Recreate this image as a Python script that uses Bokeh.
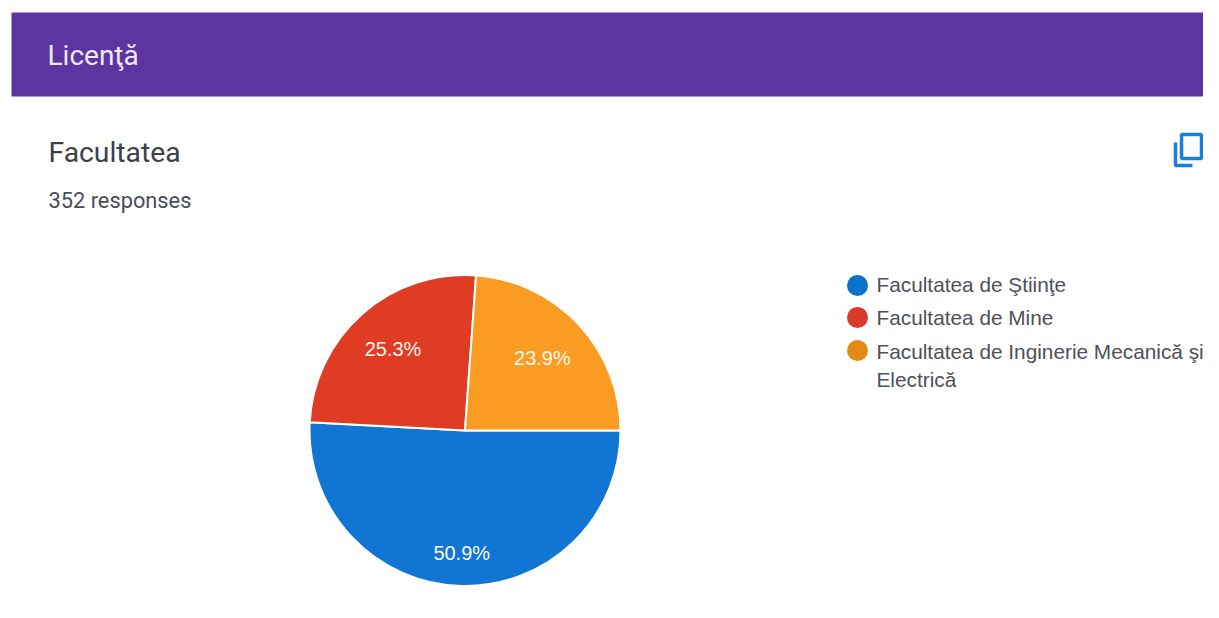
from math import pi, cos, sin
from bokeh.embed import file_html
from bokeh.resources import INLINE
from bokeh.models import Range1d, ColumnDataSource
from bokeh.plotting import figure
from bokeh.core.properties import value

section_title = "Licenţă"
question = "Facultatea"
responses = "352 responses"
categories = ["Facultatea de Ştiinţe", "Facultatea de Mine", "Facultatea de Inginerie Mecanică şi\nElectrică"]
counts = [179, 89, 84]
slice_colors = ["#1176d3", "#e03c24", "#fb9c22"]
legend_colors = ["#0b72cc", "#da3a2c", "#e38b15"]

W, H = 1203, 602
def Y(py):
    return 618 - py

p = figure(width=W, height=H, output_backend="svg", toolbar_location=None,
           x_range=Range1d(0, W), y_range=Range1d(Y(H), Y(0)),
           min_border=0, outline_line_color=None, background_fill_color="white",
           border_fill_color="white")
p.axis.visible = False
p.grid.visible = False

# banner
p.quad(left=11, right=W, top=Y(12), bottom=Y(96), fill_color="#5c35a0", line_color=None)
p.text(x=[47], y=[Y(55)], text=[section_title], text_color="#efe8f8", text_font=value("Roboto"),
       text_font_size="28px", text_baseline="middle")
p.text(x=[48], y=[Y(152)], text=[question], text_color="#3c4048", text_font=value("Roboto"),
       text_font_size="28.3px", text_baseline="middle")
p.text(x=[48], y=[Y(200)], text=[responses], text_color="#4a4d55", text_font=value("Roboto"),
       text_font_size="21.8px", text_baseline="middle")

# copy icon
ic = "#1a7fd8"
p.multi_line(xs=[[1175, 1175, 1192]], ys=[[Y(142), Y(165), Y(165)]], line_color=ic, line_width=3.5)
p.quad(left=[1181], right=[1201], top=[Y(134)], bottom=[Y(158)], fill_color=None, line_color=ic, line_width=3.5)

# pie: first slice starts at east, running clockwise
total = sum(counts)
cx, cy, r = 464.5, Y(430), 155.5
starts, ends, acc = [], [], 0.0
for c in counts:
    starts.append(-2 * pi * (acc + c) / total)
    ends.append(-2 * pi * acc / total)
    acc += c
src = ColumnDataSource(dict(start=starts, end=ends, color=slice_colors))
p.wedge(x=cx, y=cy, radius=r, start_angle="start", end_angle="end", fill_color="color",
        line_color="white", line_width=2, source=src)

# percentage labels, placed along each slice's middle direction
label_radius = [0.785, 0.70, 0.68]
lx, ly, lt = [], [], []
for s, e, c, f in zip(starts, ends, counts, label_radius):
    m = (s + e) / 2
    lx.append(cx + f * r * cos(m))
    ly.append(cy + f * r * sin(m))
    lt.append(f"{100 * c / total:.1f}%")
p.text(x=lx, y=ly, text=lt, text_color="#fdf6f0", text_font=value("Liberation Sans"),
       text_font_size="20px", text_align="center", text_baseline="middle")

# legend
p.scatter(x=[857] * 3, y=[Y(v) for v in (285, 317, 350)], size=21, color=legend_colors, line_color=None)
p.text(x=[876] * 3, y=[Y(v) for v in (284, 317, 351)], text=[c.split("\n")[0] for c in categories],
       text_color="#4f5058", text_font=value("Liberation Sans"), text_font_size="20.8px", text_baseline="middle")
p.text(x=[876], y=[Y(379)], text=[categories[2].split("\n")[1]], text_color="#4f5058",
       text_font=value("Liberation Sans"), text_font_size="20.8px", text_baseline="middle")

open("out.html", "w").write(file_html(p, INLINE))
